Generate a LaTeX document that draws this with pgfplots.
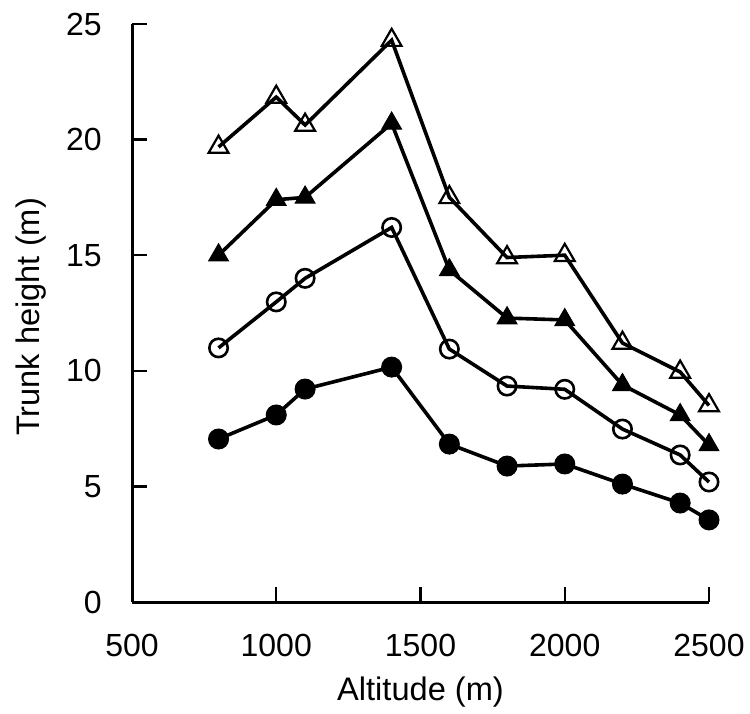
\documentclass[border=0pt]{standalone}
\usepackage{fontspec}
\setmainfont{Liberation Sans}
\usepackage{pgfplots}
\pgfplotsset{compat=1.18}
\usetikzlibrary{calc}

\begin{document}
\begin{tikzpicture}
\begin{axis}[
    scale only axis,
    width=288.5bp, height=289bp,
    xmin=500, xmax=2500,
    ymin=0, ymax=25,
    axis x line*=bottom,
    axis y line*=left,
    axis line style={line width=1.5bp},
    xtick={500,1000,1500,2000,2500},
    ytick={0,5,10,15,20,25},
    tick align=inside,
    major tick length=7.5bp,
    tick style={line width=1.2bp, black},
    /pgf/number format/assume math mode=true,
    /pgf/number format/1000 sep={},
    ticklabel style={font=\fontsize{16bp}{18bp}\selectfont, inner sep=0pt},
    xticklabel style={anchor=north, yshift=-16bp},
    yticklabel style={anchor=east, xshift=-15bp},
    label style={font=\fontsize{16.3bp}{18bp}\selectfont},
    xlabel={Altitude (m)},
    ylabel={Trunk height (m)},
    xlabel style={at={(axis description cs:0.5,0)}, anchor=base, yshift=-49bp},
    ylabel style={at={(axis description cs:0,0.5)}, anchor=base, yshift=46bp, xshift=-2bp},
    every axis plot/.append style={black, line width=1.8bp},
    clip=false,
]
% open triangles
\addplot[mark=triangle, mark size=5.7bp, mark options={line width=1.1bp, fill=none}] coordinates {
    (800,19.68) (1000,21.84) (1100,20.63) (1400,24.3) (1600,17.5)
    (1800,14.9) (2000,15.0) (2200,11.2) (2400,9.95) (2500,8.5)
};
% filled triangles
\addplot[mark=triangle*, mark size=5.7bp, mark options={line width=0.5bp}] coordinates {
    (800,15.0) (1000,17.4) (1100,17.5) (1400,20.7) (1600,14.36)
    (1800,12.28) (2000,12.2) (2200,9.39) (2400,8.09) (2500,6.79)
};
% open circles
\addplot[mark=o, mark size=4.6bp, mark options={line width=1.3bp}] coordinates {
    (800,10.99) (1000,12.98) (1100,14.0) (1400,16.2) (1600,10.94)
    (1800,9.34) (2000,9.2) (2200,7.48) (2400,6.36) (2500,5.19)
};
% filled circles
\addplot[mark=*, mark size=5bp, mark options={line width=0.5bp}] coordinates {
    (800,7.05) (1000,8.09) (1100,9.21) (1400,10.16) (1600,6.83)
    (1800,5.88) (2000,5.97) (2200,5.1) (2400,4.28) (2500,3.55)
};
\end{axis}
\path ($(current axis.south west)+(-66bp,-56bp)$) rectangle ($(current axis.south west)+(309bp,301bp)$);
\end{tikzpicture}
\end{document}
